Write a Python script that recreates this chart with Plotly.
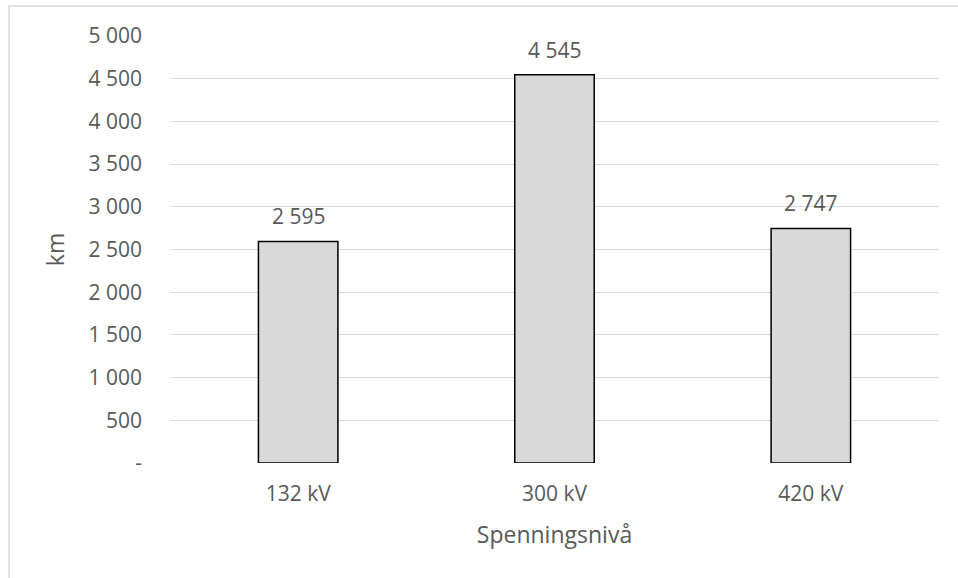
import plotly.graph_objects as go

categories = ["132 kV", "300 kV", "420 kV"]
values = [2595, 4545, 2747]
value_labels = ["2 595", "4 545", "2 747"]
tick_vals = [0, 500, 1000, 1500, 2000, 2500, 3000, 3500, 4000, 4500, 5000]
tick_text = ["-", "500", "1 000", "1 500", "2 000", "2 500", "3 000", "3 500", "4 000", "4 500", "5 000"]

W, H = 958, 578
ml, mr, mt, mb = 170, 19, 36, 115
pw, ph = W - ml - mr, H - mt - mb
FS = 21
FONT = "Open Sans"
TXT = "#595959"

fig = go.Figure()
fig.add_trace(go.Bar(
    x=categories, y=values,
    marker=dict(color="#d9d9d9", line=dict(color="#000000", width=1.5)),
))

for c, v, t in zip(categories, values, value_labels):
    fig.add_annotation(x=c, y=v, text=t, showarrow=False, yanchor="middle", yshift=25,
                       font=dict(size=FS, color=TXT, family=FONT))

fig.update_layout(
    width=W, height=H,
    margin=dict(l=ml, r=mr, t=mt, b=mb),
    paper_bgcolor="white", plot_bgcolor="white",
    font=dict(family=FONT, size=FS, color=TXT),
    bargap=0.69,
    showlegend=False,
    xaxis=dict(showgrid=False, showline=False, ticks="", ticklabelstandoff=16,
               tickfont=dict(size=FS, color=TXT),
               title=dict(text="Spenningsnivå", font=dict(size=23, color=TXT), standoff=20)),
    yaxis=dict(range=[0, 5000], tickvals=tick_vals, ticktext=tick_text,
               showgrid=True, gridcolor="#d9d9d9", gridwidth=1.3, zeroline=False, showline=False,
               ticks="", ticklabelstandoff=27, tickfont=dict(size=FS, color=TXT),
               title=dict(text="km", font=dict(size=23, color=TXT), standoff=17)),
)

fig.add_shape(type="rect", xref="paper", yref="paper",
              x0=(9 - ml) / pw, x1=2, y0=-1, y1=(H - mb - 6) / ph,
              line=dict(color="#d9d9d9", width=1.5), fillcolor="rgba(0,0,0,0)", layer="below")

fig.write_html("out.html")
